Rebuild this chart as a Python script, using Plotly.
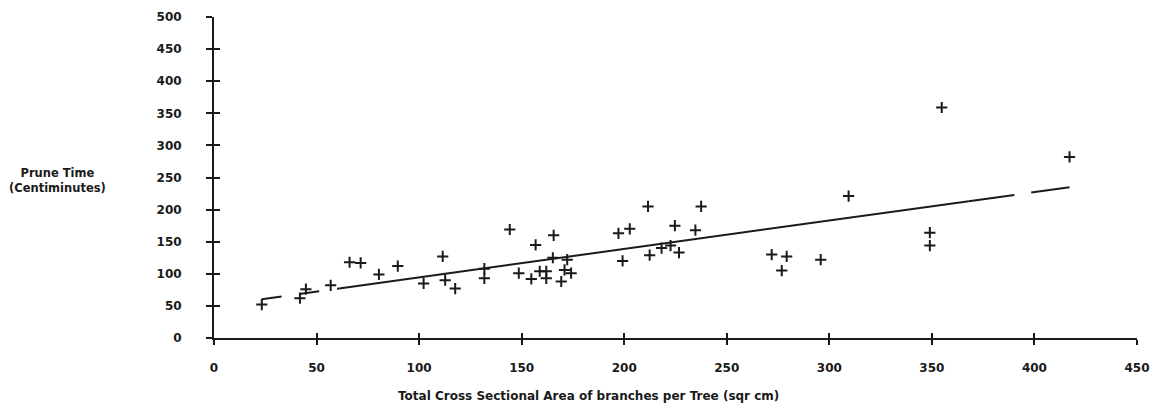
import plotly.graph_objects as go

# Scatter data: total cross-sectional area (sq cm) vs prune time (centiminutes)
area = [23.3, 41.9, 44.8, 56.9, 66.1, 71.5, 80.4, 89.6, 102.2, 111.5, 112.7, 117.6,
        131.8, 131.8, 144.2, 148.6, 154.7, 156.8, 158.8, 162.0, 162.0, 165.6, 165.2,
        169.3, 170.9, 172.2, 174.1, 197.2, 202.7, 199.2, 211.6, 212.4, 218.2, 222.6,
        224.7, 226.7, 234.7, 237.5, 271.9, 279.2, 276.8, 295.8, 309.4, 349.0, 349.0,
        354.8, 417.1]
prune_time = [52, 62, 76, 82, 118, 117, 99, 112, 85, 127, 90, 77,
              108, 93, 169, 101, 92, 145, 104, 104, 93, 160, 125,
              88, 106, 122, 101, 163, 170, 120, 205, 129, 140, 144,
              175, 133, 168, 205, 130, 127, 105, 122, 221, 164, 144,
              359, 282]

# Fitted regression line (dashed ends, solid middle)
fit_left_x = [23.3, 61]
fit_left_y = [60.5, 77.2]
fit_mid_x = [61, 368]
fit_mid_y = [77.2, 213.1]
fit_right_x = [368, 417.1]
fit_right_y = [213.1, 234.8]

x_ticks = [0, 50, 100, 150, 200, 250, 300, 350, 400, 450]
y_ticks = [0, 50, 100, 150, 200, 250, 300, 350, 400, 450, 500]

INK = "#1a1a1a"
FONT = "DejaVu Sans"

fig = go.Figure()
fig.add_trace(go.Scatter(x=fit_left_x, y=fit_left_y, mode="lines",
                         line=dict(color=INK, width=2, dash="20px,18px"),
                         hoverinfo="skip"))
fig.add_trace(go.Scatter(x=fit_mid_x, y=fit_mid_y, mode="lines",
                         line=dict(color=INK, width=2), hoverinfo="skip"))
fig.add_trace(go.Scatter(x=fit_right_x, y=fit_right_y, mode="lines",
                         line=dict(color=INK, width=2, dash="46px,17px"),
                         hoverinfo="skip"))
fig.add_trace(go.Scatter(x=area, y=prune_time, mode="markers",
                         marker=dict(symbol="cross-thin", size=8,
                                     line=dict(color=INK, width=2), color=INK)))

tickfont = dict(family=FONT, size=12, color=INK, weight="bold")

fig.update_layout(
    width=1160, height=412,
    margin=dict(l=214, r=18, t=10, b=74),
    paper_bgcolor="white", plot_bgcolor="white",
    showlegend=False,
    xaxis=dict(range=[0, 450], tickvals=x_ticks, ticks="outside", ticklen=5,
               tickwidth=2, tickcolor=INK, showline=True, linecolor=INK,
               linewidth=2, showgrid=False, zeroline=False, tickfont=tickfont,
               ticklabelstandoff=13),
    yaxis=dict(range=[0, 500], tickvals=y_ticks, ticks="outside", ticklen=6,
               tickwidth=2, tickcolor=INK, showline=True, linecolor=INK,
               linewidth=2, showgrid=False, zeroline=False, tickfont=tickfont,
               ticklabelstandoff=22),
    xaxis2=dict(range=[0, 450], tickvals=x_ticks, ticks="inside", ticklen=5,
                tickwidth=2, tickcolor=INK, showticklabels=False, showgrid=False,
                zeroline=False, overlaying="x", side="bottom", anchor="y"),
    yaxis2=dict(range=[0, 500], tickvals=y_ticks, ticks="inside", ticklen=6,
                tickwidth=2, tickcolor=INK, showticklabels=False, showgrid=False,
                zeroline=False, overlaying="y", side="left", anchor="x"),
)
# invisible trace to activate the overlay axes (ticks crossing the axis lines)
fig.add_trace(go.Scatter(x=[0], y=[0], xaxis="x2", yaxis="y2", mode="markers",
                         marker=dict(opacity=0), hoverinfo="skip"))

fig.add_annotation(text="Total Cross Sectional Area of branches per Tree (sqr cm)",
                   xref="paper", yref="paper", x=0.406, y=-0.18,
                   xanchor="center", yanchor="middle", showarrow=False,
                   font=dict(family=FONT, size=12, color=INK, weight="bold"))
fig.add_annotation(text="Prune Time<br>(Centiminutes)",
                   xref="paper", yref="paper", x=-0.170, y=0.492,
                   xanchor="center", yanchor="middle", showarrow=False,
                   font=dict(family=FONT, size=11.5, color=INK, weight="bold"))

fig.write_html("out.html")
